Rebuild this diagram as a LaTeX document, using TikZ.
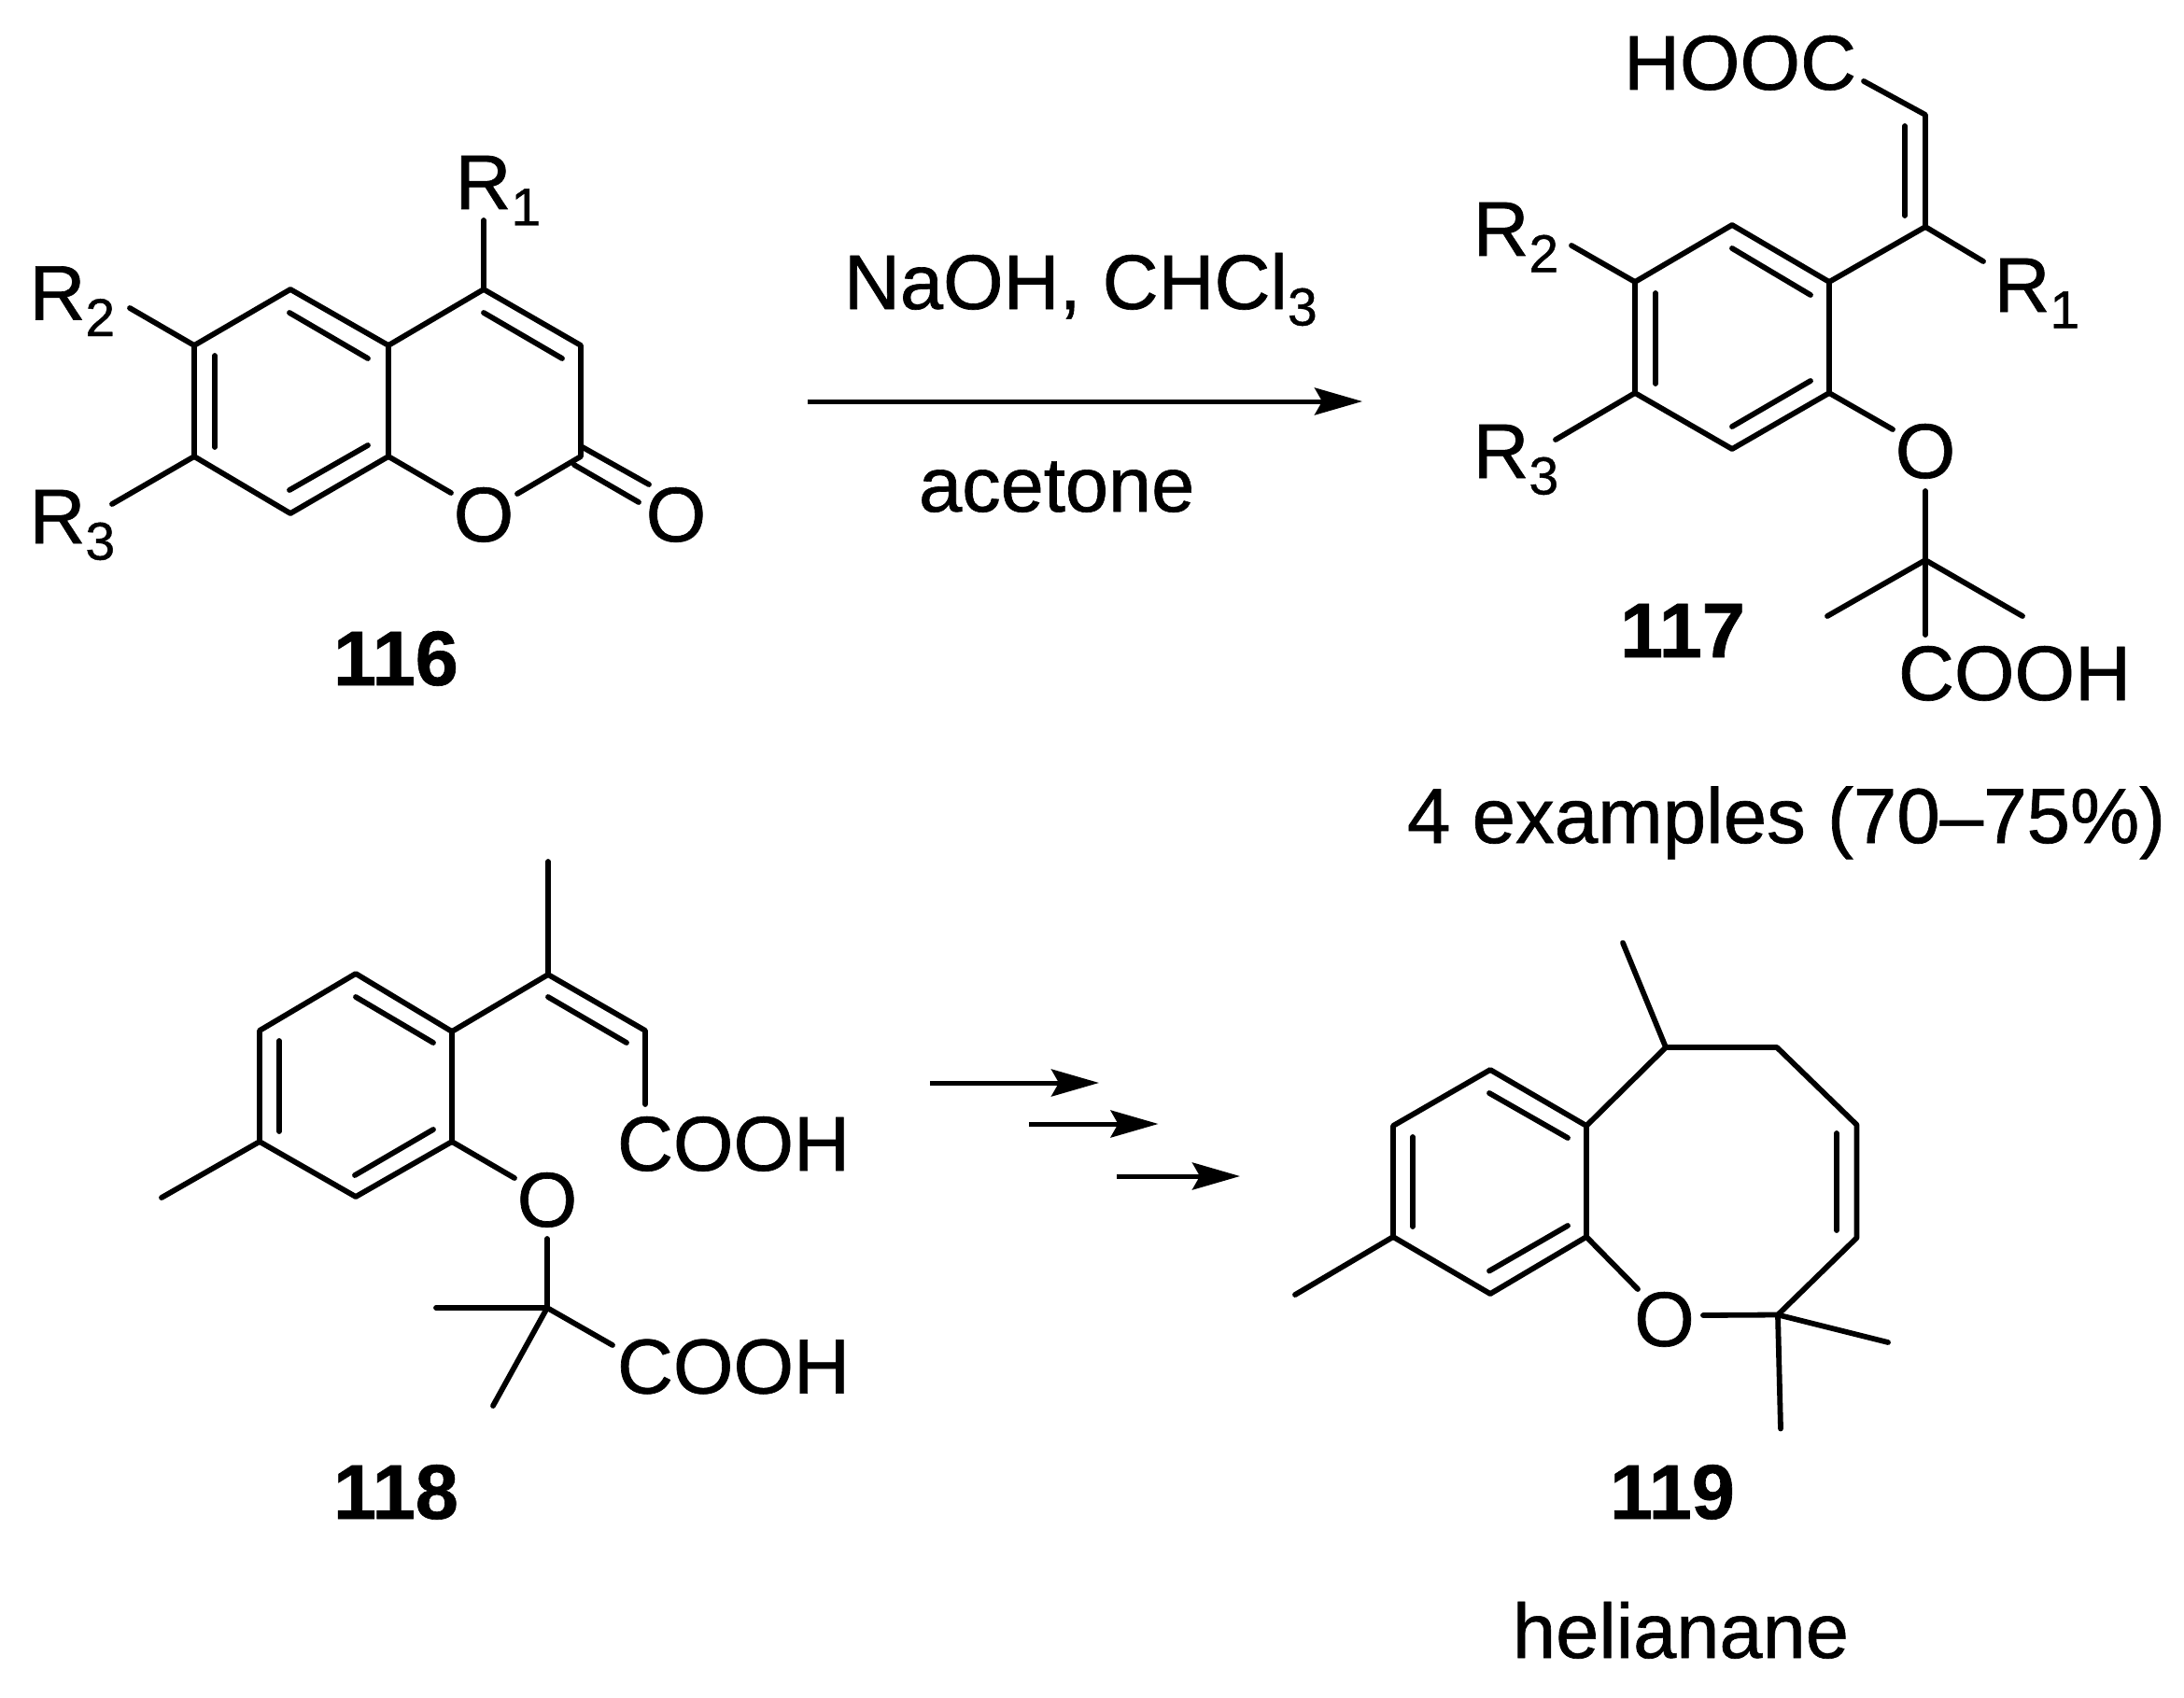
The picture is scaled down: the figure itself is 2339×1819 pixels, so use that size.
\documentclass[tikz,border=0pt]{standalone}
\usepackage{fontspec}
\setmainfont[RawFeature={embolden=0.8}]{Liberation Sans}
\usetikzlibrary{arrows.meta}
\newcommand{\subdig}[1]{\raisebox{-17.5pt}{\fontsize{57pt}{60pt}\selectfont #1}}
\tikzset{
  bond/.style={line width=5.8pt,line cap=round,line join=round,black},
  lab/.style={inner sep=0pt,outer sep=0pt,anchor=base west,font=\fontsize{83pt}{90pt}\selectfont,text=black},
  atom/.style={inner sep=0pt,outer sep=0pt,anchor=base,font=\fontsize{83pt}{90pt}\selectfont,text=black},
  num/.style={inner sep=0pt,outer sep=0pt,anchor=base west,font=\fontsize{83pt}{90pt}\selectfont\bfseries,text=black},
  rxn/.style={line width=5pt,black,-{Stealth[length=51pt,width=29pt,inset=8pt]}},
}
\begin{document}
\begin{tikzpicture}[x=1pt,y=-1pt]
\useasboundingbox (0,0) rectangle (2339,1819);
\fill[white] (0,0) rectangle (2339,1819);

% ---------- 116 ----------
\coordinate (a1) at (208,370);
\coordinate (a2) at (311,310);
\coordinate (a3) at (416,370);
\coordinate (a4) at (416,489);
\coordinate (a5) at (311,550);
\coordinate (a6) at (208,489);
\coordinate (a7) at (518,310);
\coordinate (a8) at (622,370);
\coordinate (a9) at (622,489);
\coordinate (aR1) at (518,236);
\coordinate (aR2) at (139,330);
\coordinate (aR3) at (120,540);
\coordinate (aO1) at (483,528);
\coordinate (aO2) at (554,529);
\coordinate (aC1) at (622,478);
\coordinate (aC2) at (695,519);
\coordinate (aC3) at (615,498);
\coordinate (aC4) at (684,538);
\coordinate (ai1) at (310,335);
\coordinate (ai2) at (394,384);
\coordinate (ai3) at (230,381);
\coordinate (ai4) at (230,479);
\coordinate (ai5) at (394,477);
\coordinate (ai6) at (310,525);
\coordinate (ai7) at (518,335);
\coordinate (ai8) at (602,384);
\draw[bond] (a1)--(a2)--(a3)--(a4)--(a5)--(a6)--cycle;
\draw[bond] (a3)--(a7)--(a8)--(a9)--(aO2);
\draw[bond] (a4)--(aO1);
\draw[bond] (a7)--(aR1);
\draw[bond] (a1)--(aR2);
\draw[bond] (a6)--(aR3);
\draw[bond] (aC1)--(aC2);
\draw[bond] (aC3)--(aC4);
\draw[bond] (ai1)--(ai2);
\draw[bond] (ai3)--(ai4);
\draw[bond] (ai5)--(ai6);
\draw[bond] (ai7)--(ai8);
\node[lab] (tR1a) at (487.5,224) {R\subdig{1}};
\node[lab] (tR2a) at (31.5,342.5) {R\subdig{2}};
\node[lab] (tR3a) at (31.5,582) {R\subdig{3}};
\node[atom] (tOa) at (518,580) {O};
\node[atom] (tOb) at (724,580) {O};
\node[num] (n116) at (357,734) {116};

% ---------- reaction arrow ----------
\coordinate (r1) at (865,430);
\coordinate (r2) at (1459,430);
\draw[rxn] (r1)--(r2);
\node[lab] (tNa) at (904,331) {NaOH, CHCl\subdig{3}};
\node[lab] (tAc) at (984,548) {acetone};

% ---------- 117 ----------
\coordinate (b1) at (1855,241);
\coordinate (b2) at (1959,302);
\coordinate (b3) at (1959,421);
\coordinate (b4) at (1855,481);
\coordinate (b5) at (1751,421);
\coordinate (b6) at (1751,302);
\coordinate (b7) at (2062,243);
\coordinate (b8) at (2062,123);
\coordinate (b9) at (1996,87);
\coordinate (bR1) at (2124,280);
\coordinate (bR2) at (1683,263);
\coordinate (bR3) at (1666,471);
\coordinate (bO1) at (2027,460);
\coordinate (bO2) at (2062,526);
\coordinate (bq) at (2062,600);
\coordinate (bm1) at (1957,660);
\coordinate (bm2) at (2166,660);
\coordinate (bd) at (2062,680);
\coordinate (bi1) at (2040,135);
\coordinate (bi2) at (2040,231);
\coordinate (bi3) at (1855,266);
\coordinate (bi4) at (1939,316);
\coordinate (bi5) at (1773,314);
\coordinate (bi6) at (1773,411);
\coordinate (bi7) at (1939,408);
\coordinate (bi8) at (1855,457);
\draw[bond] (b1)--(b2)--(b3)--(b4)--(b5)--(b6)--cycle;
\draw[bond] (b2)--(b7)--(b8)--(b9);
\draw[bond] (b7)--(bR1);
\draw[bond] (b6)--(bR2);
\draw[bond] (b5)--(bR3);
\draw[bond] (b3)--(bO1);
\draw[bond] (bO2)--(bq)--(bd);
\draw[bond] (bm1)--(bq)--(bm2);
\draw[bond] (bi1)--(bi2);
\draw[bond] (bi3)--(bi4);
\draw[bond] (bi5)--(bi6);
\draw[bond] (bi7)--(bi8);
\node[lab] (tHOOC) at (1739,96) {HOOC};
\node[lab] (tR2b) at (1577.5,274) {R\subdig{2}};
\node[lab] (tR3b) at (1577.5,512) {R\subdig{3}};
\node[lab] (tR1b) at (2135.5,334) {R\subdig{1}};
\node[atom] (tOc) at (2062,512) {O};
\node[lab] (tCOOHa) at (2033,750) {COOH};
\node[num] (n117) at (1735,704) {117};
\node[lab,font=\fontsize{83.5pt}{90pt}\selectfont] (tEx) at (1507,903) {4 examples (70–75\%)};

% ---------- 118 ----------
\coordinate (c1) at (381,1043);
\coordinate (c2) at (484,1105);
\coordinate (c3) at (484,1223);
\coordinate (c4) at (381,1282);
\coordinate (c5) at (278,1223);
\coordinate (c6) at (278,1104);
\coordinate (cMe) at (173,1283);
\coordinate (c7) at (587,1044);
\coordinate (cTop) at (587,923);
\coordinate (c8) at (691,1104);
\coordinate (c9) at (691,1183);
\coordinate (cO1) at (551,1262);
\coordinate (cO2) at (586,1327);
\coordinate (cq) at (586,1401);
\coordinate (cm1) at (467,1401);
\coordinate (cm2) at (528,1506);
\coordinate (cC) at (656,1441);
\coordinate (ci1) at (587,1068);
\coordinate (ci2) at (671,1117);
\coordinate (ci3) at (381,1068);
\coordinate (ci4) at (464,1117);
\coordinate (ci5) at (299,1115);
\coordinate (ci6) at (299,1212);
\coordinate (ci7) at (464,1210);
\coordinate (ci8) at (380,1259);
\draw[bond] (c1)--(c2)--(c3)--(c4)--(c5)--(c6)--cycle;
\draw[bond] (c5)--(cMe);
\draw[bond] (c2)--(c7)--(c8)--(c9);
\draw[bond] (c7)--(cTop);
\draw[bond] (c3)--(cO1);
\draw[bond] (cO2)--(cq)--(cm1);
\draw[bond] (cq)--(cm2);
\draw[bond] (cq)--(cC);
\draw[bond] (ci1)--(ci2);
\draw[bond] (ci3)--(ci4);
\draw[bond] (ci5)--(ci6);
\draw[bond] (ci7)--(ci8);
\node[atom] (tOd) at (586,1314) {O};
\node[lab] (tCOOHb) at (661,1254) {COOH};
\node[lab] (tCOOHc) at (661,1492.6) {COOH};
\node[num] (n118) at (357,1627) {118};

% ---------- three arrows ----------
\coordinate (s1) at (996,1160);
\coordinate (s2) at (1177,1160);
\coordinate (s3) at (1102,1204);
\coordinate (s4) at (1240.5,1204);
\coordinate (s5) at (1196,1260);
\coordinate (s6) at (1328,1260);
\draw[rxn] (s1)--(s2);
\draw[rxn] (s3)--(s4);
\draw[rxn] (s5)--(s6);

% ---------- 119 ----------
\coordinate (d1) at (1596,1146);
\coordinate (d2) at (1699,1206);
\coordinate (d3) at (1699,1325);
\coordinate (d4) at (1596,1386);
\coordinate (d5) at (1492,1325);
\coordinate (d6) at (1492,1206);
\coordinate (dMe) at (1387,1387);
\coordinate (d7) at (1784,1122);
\coordinate (dTop) at (1738,1010);
\coordinate (d8) at (1903,1122);
\coordinate (d9) at (1988.5,1205);
\coordinate (d10) at (1988.5,1326);
\coordinate (dq) at (1904,1408.5);
\coordinate (dO1) at (1754,1381);
\coordinate (dO2) at (1824,1409);
\coordinate (dm1) at (2022,1438);
\coordinate (dm2) at (1907,1530.5);
\coordinate (di1) at (1595,1171);
\coordinate (di2) at (1679,1219);
\coordinate (di3) at (1513,1218);
\coordinate (di4) at (1513,1314);
\coordinate (di5) at (1679,1313);
\coordinate (di6) at (1595,1361.5);
\coordinate (di7) at (1967,1214);
\coordinate (di8) at (1967,1318);
\draw[bond] (d1)--(d2)--(d3)--(d4)--(d5)--(d6)--cycle;
\draw[bond] (d5)--(dMe);
\draw[bond] (d2)--(d7)--(d8)--(d9)--(d10)--(dq)--(dO2);
\draw[bond] (d7)--(dTop);
\draw[bond] (d3)--(dO1);
\draw[bond] (dq)--(dm1);
\draw[bond] (dq)--(dm2);
\draw[bond] (di1)--(di2);
\draw[bond] (di3)--(di4);
\draw[bond] (di5)--(di6);
\draw[bond] (di7)--(di8);
\node[atom] (tOe) at (1782.5,1442) {O};
\node[num] (n119) at (1724,1627) {119};
\node[lab] (tHel) at (1620,1776) {helianane};
\end{tikzpicture}
\end{document}
